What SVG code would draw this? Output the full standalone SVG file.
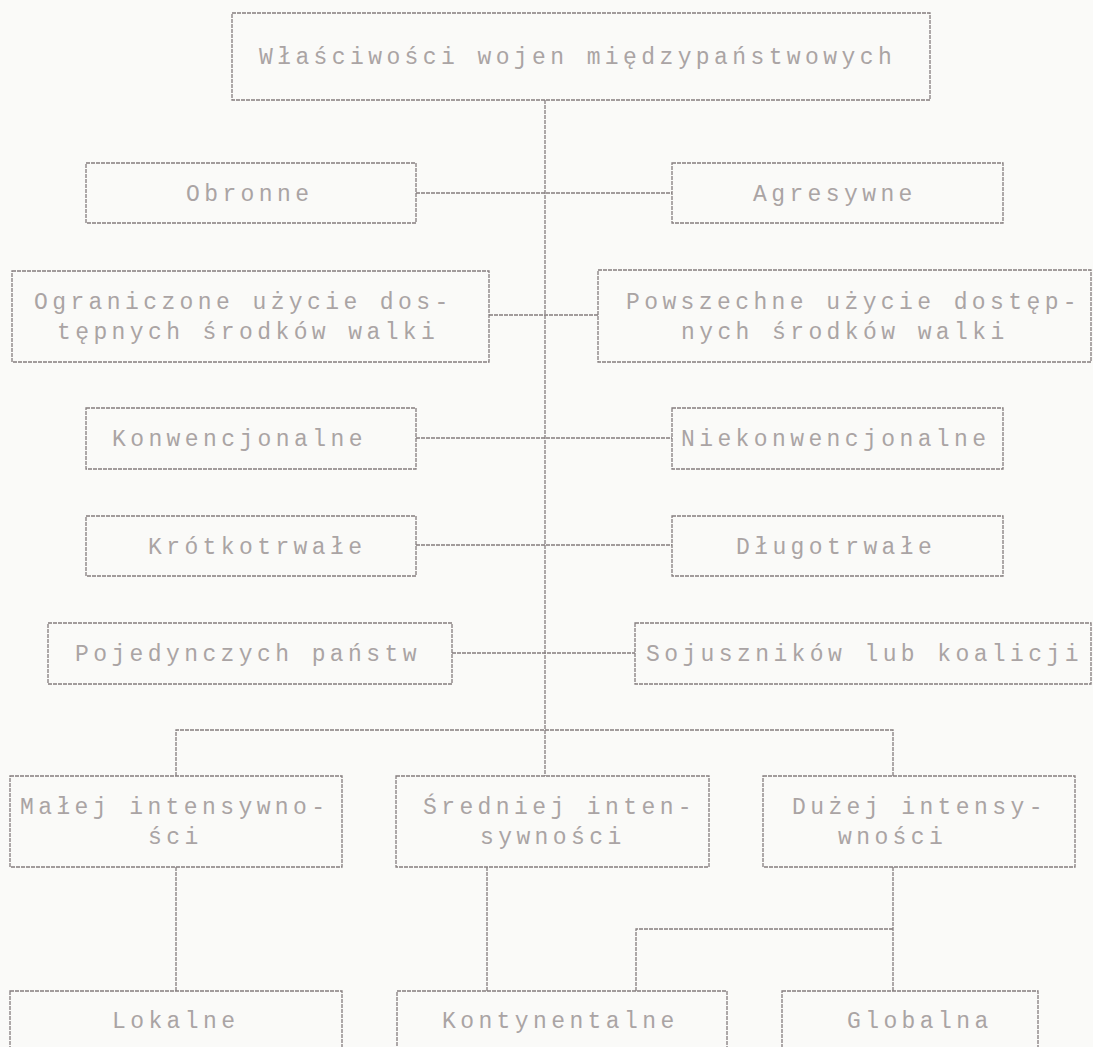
<svg xmlns="http://www.w3.org/2000/svg" width="1093" height="1047" viewBox="0 0 1093 1047">
<style>
.bg{fill:#fafaf8}
.box{fill:none;stroke:#857d7d;stroke-width:1.3;stroke-dasharray:4 1}
.ln{fill:none;stroke:#857d7d;stroke-width:1.3;stroke-dasharray:4 1}
.t{font-family:"Liberation Mono","DejaVu Sans Mono",monospace;font-size:23px;letter-spacing:4.4px;fill:#aaa4a4}
</style>
<rect class="bg" x="0" y="0" width="1093" height="1047"/>
<g id="connectors">
<path class="ln" d="M545,100 V776"/>
<path class="ln" d="M416,193 H672"/>
<path class="ln" d="M489,315 H598"/>
<path class="ln" d="M416,438 H672"/>
<path class="ln" d="M416,545 H672"/>
<path class="ln" d="M452,653 H635"/>
<path class="ln" d="M176,776 V730 H893 V776"/>
<path class="ln" d="M176,867 V991"/>
<path class="ln" d="M487,867 V991"/>
<path class="ln" d="M893,867 V991"/>
<path class="ln" d="M636,991 V929 H893"/>
</g>
<g id="n-title"><rect class="box" x="232" y="13" width="698" height="87"/><text class="t" x="259" y="64">Właściwości wojen międzypaństwowych</text></g>
<g id="n-obronne"><rect class="box" x="86" y="163" width="330" height="60"/><text class="t" x="186" y="201">Obronne</text></g>
<g id="n-agresywne"><rect class="box" x="672" y="163" width="331" height="60"/><text class="t" x="753" y="201">Agresywne</text></g>
<g id="n-ograniczone"><rect class="box" x="12" y="271" width="477" height="91"/><text class="t" x="34" y="309">Ograniczone użycie dos-</text><text class="t" x="57" y="339">tępnych środków walki</text></g>
<g id="n-powszechne"><rect class="box" x="598" y="270" width="493" height="92"/><text class="t" x="626" y="309">Powszechne użycie dostęp-</text><text class="t" x="681" y="339">nych środków walki</text></g>
<g id="n-konwencjonalne"><rect class="box" x="86" y="408" width="330" height="61"/><text class="t" x="112" y="446">Konwencjonalne</text></g>
<g id="n-niekonwencjonalne"><rect class="box" x="672" y="408" width="331" height="61"/><text class="t" x="681" y="446">Niekonwencjonalne</text></g>
<g id="n-krotkotrwale"><rect class="box" x="86" y="516" width="330" height="60"/><text class="t" x="148" y="554">Krótkotrwałe</text></g>
<g id="n-dlugotrwale"><rect class="box" x="672" y="516" width="331" height="60"/><text class="t" x="736" y="554">Długotrwałe</text></g>
<g id="n-pojedynczych"><rect class="box" x="48" y="623" width="404" height="61"/><text class="t" x="75" y="661">Pojedynczych państw</text></g>
<g id="n-sojusznikow"><rect class="box" x="635" y="623" width="456" height="61"/><text class="t" x="646" y="661">Sojuszników lub koalicji</text></g>
<g id="n-malej"><rect class="box" x="10" y="776" width="332" height="91"/><text class="t" x="20" y="814">Małej intensywno-</text><text class="t" x="148" y="844">ści</text></g>
<g id="n-sredniej"><rect class="box" x="396" y="776" width="313" height="91"/><text class="t" x="423" y="814">Średniej inten-</text><text class="t" x="480" y="844">sywności</text></g>
<g id="n-duzej"><rect class="box" x="763" y="776" width="312" height="91"/><text class="t" x="792" y="814">Dużej intensy-</text><text class="t" x="838" y="844">wności</text></g>
<g id="n-lokalne"><rect class="box" x="10" y="991" width="332" height="70"/><text class="t" x="112" y="1028">Lokalne</text></g>
<g id="n-kontynentalne"><rect class="box" x="397" y="991" width="330" height="70"/><text class="t" x="442" y="1028">Kontynentalne</text></g>
<g id="n-globalna"><rect class="box" x="782" y="991" width="256" height="70"/><text class="t" x="847" y="1028">Globalna</text></g>
</svg>
